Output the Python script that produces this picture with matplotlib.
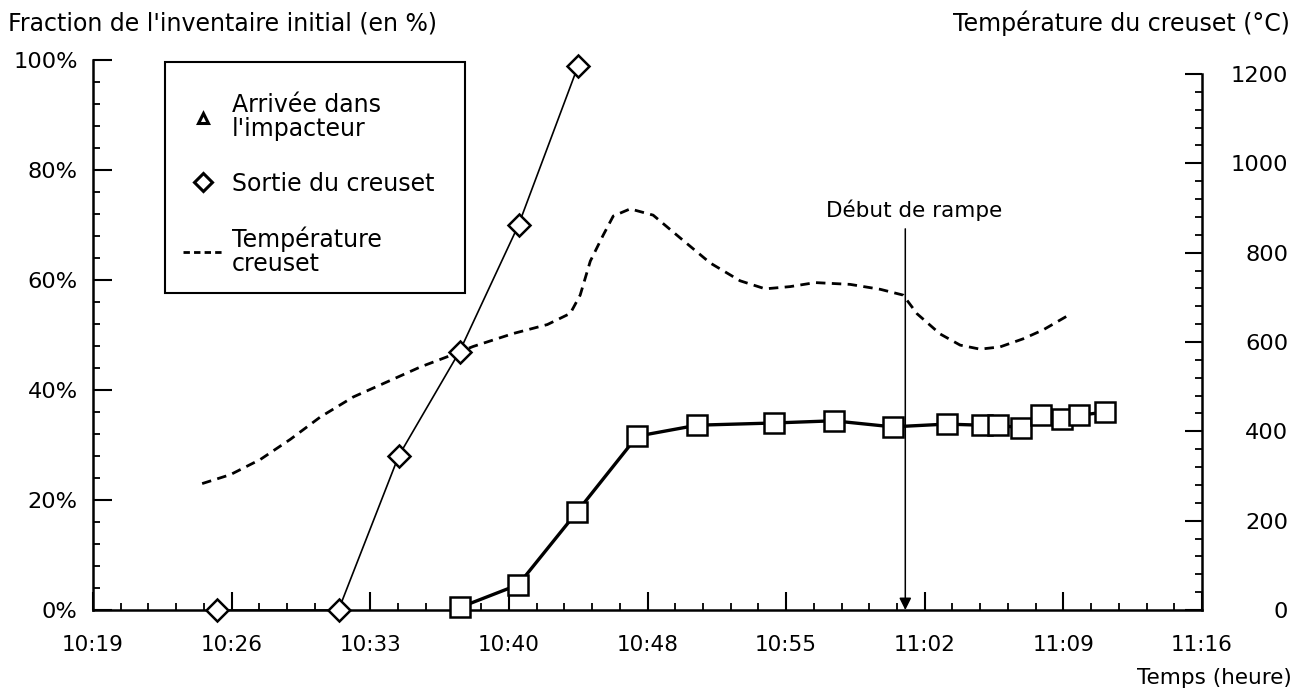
import matplotlib
matplotlib.use("Agg")
import matplotlib.pyplot as plt
from matplotlib.lines import Line2D
from matplotlib.patches import Rectangle
from matplotlib.ticker import FixedLocator

plt.rcParams['font.family'] = ['DejaVu Sans']
plt.rcParams['font.size'] = 15.5

# ---- data (time in minutes after 10:00) ----
time_sortie = [25.39, 31.62, 34.71, 37.84, 40.87, 43.94]
frac_sortie = [0, 0, 28, 47, 70, 99]

time_impact = [37.88, 40.86, 43.89, 46.97, 50.05, 53.98, 57.06, 60.10,
               62.87, 64.67, 65.54, 66.72, 67.75, 68.78, 69.70, 71.04]
frac_impact = [0.5, 4.6, 17.9, 31.6, 33.6, 34.0, 34.4, 33.3,
               33.8, 33.6, 33.6, 33.1, 35.4, 34.7, 35.4, 36.0]

time_temp = [24.61, 26.06, 27.60, 29.14, 30.68, 32.38, 34.13, 35.82, 37.21,
             38.54, 40.60, 42.35, 43.53, 44.04, 44.56, 45.22, 45.74, 46.61,
             47.79, 49.18, 50.72, 52.26, 53.55, 54.83, 56.12, 57.91, 59.46,
             60.64, 61.36, 62.54, 63.57, 64.59, 65.62, 66.80, 67.83, 69.22]
temp_c = [283, 303, 337, 382, 432, 477, 511, 544, 567,
          590, 619, 639, 664, 705, 781, 839, 882, 898,
          884, 833, 777, 737, 719, 724, 733, 729, 718,
          705, 663, 618, 593, 584, 589, 607, 627, 662]

x_start, x_end = 19.0, 76.0
x_tick_labels = ["10:19", "10:26", "10:33", "10:40", "10:48",
                 "10:55", "11:02", "11:09", "11:16"]
y_left_ticks = [0, 20, 40, 60, 80, 100]
y_left_labels = ["0%", "20%", "40%", "60%", "80%", "100%"]
y_right_ticks = [0, 200, 400, 600, 800, 1000, 1200]

ramp_time = 60.75
ramp_label = "Début de rampe"

legend_labels = ["Arrivée dans\nl'impacteur", "Sortie du creuset", "Température\ncreuset"]

# ---- figure ----
W, H = 1305, 692
fig = plt.figure(figsize=(W / 100, H / 100), dpi=100)
ax = fig.add_axes([93 / W, 1 - 610 / H, (1202 - 93) / W, 550 / H])
ax2 = ax.twinx()
ax.set_zorder(ax2.get_zorder() + 1)
ax.patch.set_visible(False)

# temperature curve (right axis)
ax2.plot(time_temp, temp_c, color='black', lw=2.0, ls=(0, (3.4, 2.3)))

# series on left axis
ax.plot(time_sortie, frac_sortie, color='black', lw=1.2, marker='D', ms=11,
        mfc='white', mec='black', mew=1.8, clip_on=False, zorder=3)
ax.plot(time_impact, frac_impact, color='black', lw=2.4, marker='s', ms=14,
        mfc='white', mec='black', mew=1.8, clip_on=False, zorder=4)

# arrow
ax.annotate("", xy=(ramp_time, 0), xytext=(ramp_time, 69.3),
            arrowprops=dict(arrowstyle='-|>', color='black', lw=1.1,
                            mutation_scale=18, shrinkA=0, shrinkB=0))
ax.text(ramp_time + 0.45, 72.7, ramp_label, ha='center', va='center', fontsize=15.5)

# axes limits
ax.set_xlim(x_start, x_end)
ax.set_ylim(0, 100)
ax2.set_ylim(0, 1200 * 550 / 536)

span = (x_end - x_start) / 8
major_x = [x_start + i * span for i in range(9)]
minor_x = [x_start + i * span / 5 for i in range(41) if i % 5 != 0]
ax.xaxis.set_major_locator(FixedLocator(major_x))
ax.set_xticklabels(x_tick_labels)
ax.xaxis.set_minor_locator(FixedLocator(minor_x))

ax.set_yticks(y_left_ticks)
ax.set_yticklabels(y_left_labels)
ax.yaxis.set_minor_locator(FixedLocator([v for v in range(0, 101, 4) if v % 20 != 0]))
ax2.set_yticks(y_right_ticks)
ax2.set_yticklabels([str(v) for v in y_right_ticks])
ax2.yaxis.set_minor_locator(FixedLocator([v for v in range(0, 1201, 40) if v % 200 != 0]))

for a in (ax, ax2):
    for s in a.spines.values():
        s.set_linewidth(1.8)
    a.spines['top'].set_visible(False)
ax.spines['right'].set_visible(False)
ax2.spines['left'].set_visible(False)
ax2.spines['bottom'].set_visible(False)
ax2.spines['right'].set_bounds(0, 1200)

ax.tick_params(axis='x', which='major', direction='in', length=13, width=1.5, pad=18,
               labelsize=15.5)
ax.tick_params(axis='x', which='minor', direction='in', length=5, width=1.3)
ax.tick_params(axis='y', which='major', direction='in', length=14, width=1.5, pad=11,
               labelsize=16.2)
ax.tick_params(axis='y', which='minor', direction='in', length=5, width=1.3)
ax2.tick_params(axis='y', which='major', direction='in', length=12, width=1.5, pad=62,
                labelsize=16.2)
ax2.tick_params(axis='y', which='minor', direction='in', length=5, width=1.3)
for lab in ax2.get_yticklabels():
    lab.set_horizontalalignment('right')

# legend (frame drawn separately to match the original box)
def px2ax(xp, yp):
    return (xp - 93) / (1202 - 93), (610 - yp) / 550

bx0, by0 = px2ax(165, 293)
bx1, by1 = px2ax(465, 62)
ax.add_patch(Rectangle((bx0, by0), bx1 - bx0, by1 - by0, transform=ax.transAxes,
                       fill=True, facecolor='white', edgecolor='black', lw=1.5,
                       zorder=5, clip_on=False))

handles = [
    Line2D([], [], ls='none', marker='^', ms=7, mfc='white', mec='black', mew=2.2),
    Line2D([], [], ls='none', marker='D', ms=9.5, mfc='white', mec='black', mew=2.2),
    Line2D([], [], color='black', lw=2, ls=(0, (2.3, 1.5))),
]
_, anchor_y = px2ax(165, 75)
leg = ax.legend(handles, legend_labels, loc='upper left',
                bbox_to_anchor=(bx0, anchor_y), frameon=False, fontsize=17,
                borderpad=0.76, labelspacing=1.3, handlelength=1.7,
                handletextpad=0.38, borderaxespad=0)
leg.set_zorder(6)
for t in leg.get_texts():
    t.set_linespacing(1.0)

# axis titles
fig.text(8 / W, 1 - 23 / H, "Fraction de l'inventaire initial (en %)", ha='left',
         va='center', fontsize=17)
fig.text(1290 / W, 1 - 23 / H, "Température du creuset (°C)", ha='right',
         va='center', fontsize=17)
fig.text(1292 / W, 1 - 678 / H, "Temps (heure)", ha='right', va='center', fontsize=15.5)

fig.savefig("out.png", dpi=100)
